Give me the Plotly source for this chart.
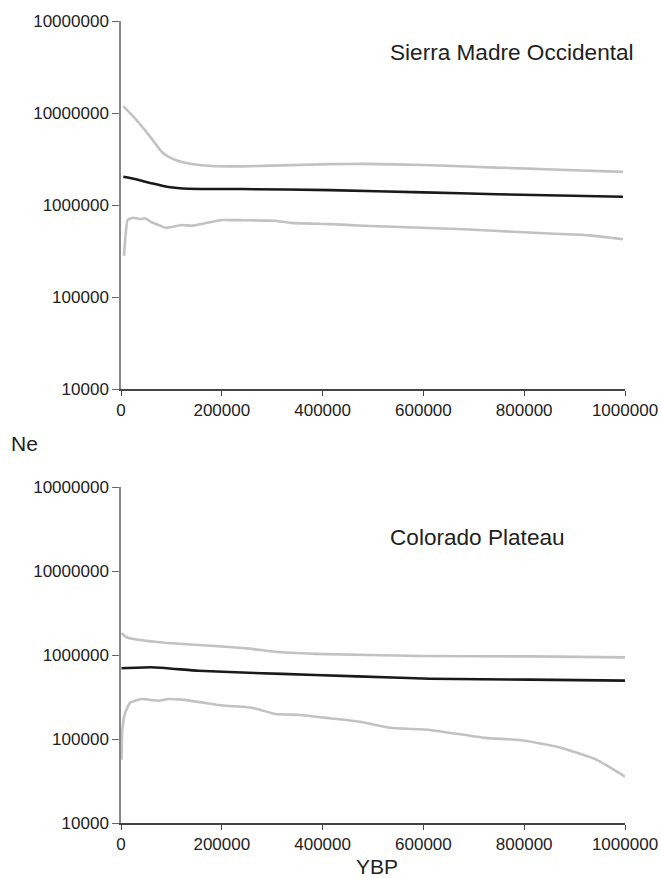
import plotly.graph_objects as go

# ---------------- data ----------------
# Sierra Madre Occidental
smo_upper_x = [4600, 27800, 54200, 80700, 93900, 113700, 140200, 180000, 239500, 300000, 415000, 480000, 600000, 746000, 870000, 996000]
smo_upper_y = [1.19e7, 8.75e6, 5.86e6, 3.79e6, 3.35e6, 3.0e6, 2.79e6, 2.65e6, 2.63e6, 2.68e6, 2.78e6, 2.8e6, 2.72e6, 2.55e6, 2.42e6, 2.29e6]
smo_mid_x = [4600, 27800, 60900, 93900, 133600, 240000, 415000, 600000, 746000, 996000]
smo_mid_y = [2.03e6, 1.92e6, 1.72e6, 1.57e6, 1.5e6, 1.49e6, 1.45e6, 1.37e6, 1.31e6, 1.23e6]
smo_lower_x = [6000, 13300, 24400, 37700, 47600, 60900, 70800, 87300, 103800, 120400, 140200, 166700, 199700, 242400, 305000, 337000, 415000, 480000, 540000, 680000, 800000, 930000, 996000]
smo_lower_y = [2.8e5, 6.87e5, 7.28e5, 7.0e5, 7.17e5, 6.49e5, 6.17e5, 5.67e5, 5.81e5, 6.06e5, 5.96e5, 6.33e5, 6.87e5, 6.83e5, 6.75e5, 6.4e5, 6.2e5, 5.96e5, 5.8e5, 5.45e5, 5.05e5, 4.68e5, 4.24e5]

# Colorado Plateau
cp_upper_x = [1000, 11000, 27800, 87300, 186500, 256000, 305600, 385000, 594000, 812000, 1000000]
cp_upper_y = [1.83e6, 1.64e6, 1.55e6, 1.41e6, 1.29e6, 1.2e6, 1.1e6, 1.04e6, 9.8e5, 9.7e5, 9.46e5]
cp_mid_x = [1000, 60900, 153000, 252600, 385000, 554000, 613000, 812000, 1000000]
cp_mid_y = [7.0e5, 7.2e5, 6.56e5, 6.2e5, 5.82e5, 5.4e5, 5.26e5, 5.13e5, 4.99e5]
cp_lower_x = [1000, 2600, 7900, 17900, 41000, 74000, 94000, 120000, 160000, 193000, 213000, 243000, 270000, 306000, 355000, 415000, 474000, 534000, 613000, 722000, 792000, 871000, 944000, 1000000]
cp_lower_y = [5.7e4, 1.29e5, 2.04e5, 2.73e5, 3.02e5, 2.88e5, 3.02e5, 2.97e5, 2.75e5, 2.56e5, 2.49e5, 2.44e5, 2.3e5, 2.0e5, 1.95e5, 1.78e5, 1.62e5, 1.37e5, 1.29e5, 1.04e5, 9.8e4, 8.0e4, 5.7e4, 3.6e4]

y_tickvals = [1e4, 1e5, 1e6, 1e7, 1e8]
y_ticktext = ["10000", "100000", "1000000", "10000000", "10000000"]
x_tickvals = [0, 200000, 400000, 600000, 800000, 1000000]
x_ticktext = ["0", "200000", "400000", "600000", "800000", "1000000"]

GRAY = "#c2c2c4"
BLACK = "#1a1a1a"
W, H = 661, 878
FONT = "Liberation Sans, Arial, sans-serif"

def px(x):
    return x / W

def py(y):
    return 1 - y / H

fig = go.Figure()

def add(xs, ys, color, ax):
    fig.add_trace(go.Scatter(x=xs, y=ys, mode="lines", xaxis="x" + ax, yaxis="y" + ax,
                             line=dict(color=color, width=2.6, shape="spline", smoothing=0.4),
                             showlegend=False, hoverinfo="skip"))

add(smo_upper_x, smo_upper_y, GRAY, "")
add(smo_lower_x, smo_lower_y, GRAY, "")
add(smo_mid_x, smo_mid_y, BLACK, "")
add(cp_upper_x, cp_upper_y, GRAY, "2")
add(cp_lower_x, cp_lower_y, GRAY, "2")
add(cp_mid_x, cp_mid_y, BLACK, "2")

xdom = [px(121), px(625)]
top_dom = [py(389), py(21)]
bot_dom = [py(823.3), py(487.3)]

tickfont = dict(family=FONT, size=17, color="#222222")

def xax(anchor):
    return dict(domain=xdom, anchor=anchor, range=[0, 1000000], tickvals=x_tickvals, ticktext=x_ticktext,
                showgrid=False, zeroline=False, showline=True, linecolor="#444444", linewidth=1.5,
                ticks="outside", ticklen=5, tickcolor="#444444", tickwidth=1, tickfont=tickfont,
                automargin=False)

def yax(anchor, dom):
    return dict(domain=dom, anchor=anchor, type="log", range=[4, 8], tickvals=y_tickvals, ticktext=y_ticktext,
                showgrid=False, zeroline=False, showline=True, linecolor="#888888", linewidth=1.5,
                ticks="outside", ticklen=7, tickcolor="#666666", tickwidth=1, tickfont=tickfont,
                automargin=False)

fig.update_layout(
    width=W, height=H, autosize=False,
    margin=dict(l=0, r=0, t=0, b=0, pad=0, autoexpand=False),
    paper_bgcolor="white", plot_bgcolor="white",
    xaxis=xax("y"), yaxis=yax("x", top_dom),
    xaxis2=xax("y2"), yaxis2=yax("x2", bot_dom),
    annotations=[
        dict(text="Sierra Madre Occidental", x=px(388), y=py(52), xref="paper", yref="paper",
             xanchor="left", yanchor="middle", showarrow=False, font=dict(family=FONT, size=22.6, color="#222222")),
        dict(text="Colorado Plateau", x=px(388), y=py(537), xref="paper", yref="paper",
             xanchor="left", yanchor="middle", showarrow=False, font=dict(family=FONT, size=22.6, color="#222222")),
        dict(text="Ne", x=px(9), y=py(443), xref="paper", yref="paper",
             xanchor="left", yanchor="middle", showarrow=False, font=dict(family=FONT, size=21, color="#222222")),
        dict(text="YBP", x=px(377), y=py(866), xref="paper", yref="paper",
             xanchor="center", yanchor="middle", showarrow=False, font=dict(family=FONT, size=21, color="#222222")),
    ],
)

fig.write_html("out.html", config={"responsive": False, "displayModeBar": False},
               post_script="document.body.style.margin='0';document.body.style.overflow='hidden';")
